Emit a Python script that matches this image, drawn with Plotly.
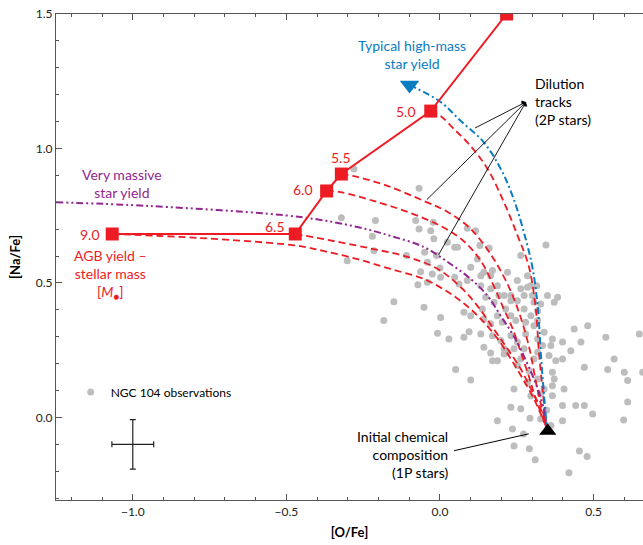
import plotly.graph_objects as go

# ---------------- data ----------------
obs_o = [-0.280, -0.068, -0.321, -0.210, -0.079, -0.022, -0.220, -0.068, -0.030, -0.020,
         0.089, 0.116, 0.024, 0.048, 0.057, 0.130, 0.160, -0.215, -0.302, -0.109,
         -0.050, -0.011, 0.000, -0.041, -0.025, -0.063, -0.072, -0.041, 0.002, 0.048,
         0.062, 0.089, 0.100, 0.122, 0.133, 0.143, 0.165, 0.171, 0.187, 0.133,
         0.165, 0.149, 0.192, 0.220, 0.252, 0.285, 0.315, 0.345, 0.263, 0.285,
         0.231, 0.274, 0.301, 0.252, 0.306, 0.328, 0.350, 0.383, 0.372, -0.183,
         -0.150, -0.052, 0.002, 0.029, 0.078, 0.095, -0.008, 0.133, 0.143, 0.165,
         0.171, 0.209, 0.220, 0.241, 0.252, 0.279, 0.306, 0.318, 0.339, 0.366,
         0.399, 0.426, 0.459, 0.437, 0.481, 0.540, 0.649, 0.567, 0.546, 0.600,
         0.611, 0.660, 0.470, 0.399, 0.377, 0.366, 0.372, 0.339, 0.318, 0.290,
         0.252, 0.263, 0.306, 0.285, 0.296, 0.328, 0.366, 0.404, 0.442, 0.470,
         0.497, 0.611, 0.399, 0.366, 0.241, 0.231, 0.263, 0.293, 0.328, 0.361,
         0.399, 0.187, 0.236, 0.051, 0.100, 0.209, 0.187, 0.361, 0.334, 0.318,
         0.274, 0.231, 0.198, 0.171, 0.143, 0.100, 0.078, 0.187, 0.203, 0.214,
         0.231, 0.247, 0.274, 0.279, 0.296, 0.318, 0.231, 0.209, 0.176, 0.138,
         0.165, 0.263, 0.355, 0.318, 0.296, 0.272, 0.241, 0.291, 0.310, 0.347,
         0.454, 0.479, 0.420, 0.598]
obs_na = [0.924, 0.852, 0.742, 0.732, 0.732, 0.726, 0.674, 0.701, 0.694, 0.664,
          0.703, 0.694, 0.651, 0.633, 0.633, 0.639, 0.630, 0.620, 0.583, 0.602,
          0.614, 0.602, 0.556, 0.577, 0.533, 0.542, 0.493, 0.503, 0.521, 0.521,
          0.496, 0.509, 0.558, 0.589, 0.527, 0.540, 0.527, 0.546, 0.490, 0.490,
          0.478, 0.447, 0.453, 0.540, 0.509, 0.527, 0.490, 0.641, 0.602, 0.484,
          0.453, 0.453, 0.453, 0.434, 0.428, 0.422, 0.453, 0.447, 0.428, 0.360,
          0.430, 0.410, 0.372, 0.292, 0.298, 0.319, 0.313, 0.310, 0.261, 0.240,
          0.211, 0.255, 0.242, 0.255, 0.280, 0.310, 0.341, 0.360, 0.317, 0.292,
          0.280, 0.248, 0.280, 0.329, 0.341, 0.298, 0.310, 0.217, 0.178, 0.168,
          0.137, 0.168, 0.187, 0.217, 0.211, 0.168, 0.143, 0.106, 0.143, 0.174,
          0.193, 0.217, 0.217, 0.131, 0.081, 0.087, 0.118, 0.106, 0.044, 0.044,
          0.013, 0.057, 0.044, 0.081, 0.106, 0.038, 0.032, -0.003, -0.006, -0.030,
          -0.012, -0.012, -0.043, 0.178, 0.139, 0.236, 0.211, 0.267, 0.267, 0.292,
          0.255, 0.304, 0.286, 0.304, 0.366, 0.378, 0.391, 0.378, 0.354, 0.403,
          0.378, 0.360, 0.403, 0.354, 0.378, 0.397, 0.434, 0.453, 0.428, 0.403,
          0.348, 0.478, 0.230, 0.242, 0.490, -0.062, -0.106, -0.116, -0.157, 0.028,
          -0.125, -0.145, -0.206, -0.010]

agb_mass = ["9.0", "6.5", "6.0", "5.5", "5.0", ""]
agb_o = [-1.067, -0.471, -0.369, -0.321, -0.030, 0.217]
agb_na = [0.682, 0.682, 0.842, 0.905, 1.139, 1.500]

init_o, init_na = 0.351, -0.050
hm_o, hm_na = -0.099, 1.236

# dilution tracks
trk50_o = [-0.030, 0.002, 0.045, 0.100, 0.155, 0.208, 0.253, 0.289, 0.312, 0.322, 0.335, 0.345, 0.351]
trk50_na = [1.139, 1.121, 1.073, 1.009, 0.924, 0.801, 0.675, 0.563, 0.403, 0.243, 0.095, -0.017, -0.050]
trk55_o = [-0.321, -0.269, -0.171, -0.053, 0.025, 0.100, 0.175, 0.237, 0.286, 0.319, 0.351]
trk55_na = [0.905, 0.894, 0.861, 0.805, 0.764, 0.701, 0.589, 0.452, 0.281, 0.095, -0.050]
trk60_o = [-0.369, -0.324, -0.216, -0.105, 0.002, 0.077, 0.133, 0.175, 0.208, 0.237, 0.263, 0.289, 0.312, 0.351]
trk60_na = [0.842, 0.838, 0.805, 0.764, 0.712, 0.656, 0.582, 0.489, 0.403, 0.329, 0.243, 0.154, 0.069, -0.050]
trk65_o = [-0.471, -0.347, -0.216, -0.105, -0.007, 0.067, 0.122, 0.175, 0.220, 0.263, 0.296, 0.328, 0.351]
trk65_na = [0.682, 0.656, 0.626, 0.597, 0.552, 0.485, 0.415, 0.329, 0.255, 0.180, 0.106, 0.032, -0.050]
trk90_o = [-1.067, -0.780, -0.455, -0.380, -0.269, -0.161, -0.053, 0.025, 0.084, 0.133, 0.188, 0.231, 0.270, 0.306, 0.328, 0.351]
trk90_na = [0.682, 0.667, 0.637, 0.619, 0.589, 0.552, 0.515, 0.467, 0.418, 0.366, 0.292, 0.217, 0.143, 0.069, 0.013, -0.050]

hm_track_o = [-0.099, 0.002, 0.067, 0.142, 0.198, 0.240, 0.279, 0.302, 0.319, 0.328, 0.338, 0.348, 0.351]
hm_track_na = [1.236, 1.173, 1.103, 1.024, 0.924, 0.812, 0.664, 0.552, 0.403, 0.243, 0.095, -0.032, -0.050]

vm_track_o = [-1.25, -0.943, -0.454, -0.269, -0.161, -0.053, 0.025, 0.100, 0.155, 0.198, 0.240, 0.273, 0.302, 0.322, 0.338, 0.351]
vm_track_na = [0.800, 0.786, 0.745, 0.708, 0.675, 0.634, 0.578, 0.515, 0.452, 0.377, 0.303, 0.229, 0.154, 0.095, 0.032, -0.050]

err_o, err_na = [-1.0], [-0.10]
err_dx, err_dy = [0.068], [0.092]

# ---------------- styles ----------------
RED = "#ed1c24"
BLUE = "#0a7cc1"
PURPLE = "#92278f"
GRAY = "#bdbdbd"
FONT = "Lato"

fig = go.Figure()

fig.add_trace(go.Scatter(x=obs_o, y=obs_na, mode="markers", name="NGC 104 observations",
                         marker=dict(color=GRAY, size=7), showlegend=True))

for xo, yn in [(trk50_o, trk50_na), (trk55_o, trk55_na), (trk60_o, trk60_na),
               (trk65_o, trk65_na), (trk90_o, trk90_na)]:
    fig.add_trace(go.Scatter(x=xo, y=yn, mode="lines", line_shape="spline", showlegend=False,
                             line=dict(color=RED, width=1.8, dash="7px,4px")))

fig.add_trace(go.Scatter(x=vm_track_o, y=vm_track_na, mode="lines", line_shape="spline", showlegend=False,
                         line=dict(color=PURPLE, width=2, dash="7px,3px,2px,3px,2px,3px")))
fig.add_trace(go.Scatter(x=hm_track_o, y=hm_track_na, mode="lines", line_shape="spline", showlegend=False,
                         line=dict(color=BLUE, width=2, dash="7px,3px,2px,3px")))

fig.add_trace(go.Scatter(x=agb_o, y=agb_na, mode="lines+markers", showlegend=False,
                         line=dict(color=RED, width=2),
                         marker=dict(symbol="square", size=13, color=RED)))

fig.add_trace(go.Scatter(x=[hm_o], y=[hm_na], mode="markers", showlegend=False,
                         marker=dict(symbol="triangle-down", size=17, color=BLUE)))
fig.add_trace(go.Scatter(x=[init_o], y=[init_na], mode="markers", showlegend=False,
                         marker=dict(symbol="triangle-up", size=15, color="black")))

fig.add_trace(go.Scatter(x=err_o, y=err_na, mode="markers", showlegend=False,
                         marker=dict(size=1, color="rgba(0,0,0,0)"),
                         error_x=dict(type="data", array=err_dx, color="#222", thickness=1.2, width=3),
                         error_y=dict(type="data", array=err_dy, color="#222", thickness=1.2, width=3)))

ann = []
# mass labels
shifts = {"9.0": (-10, 0, "right"), "6.5": (-8, 8, "right"), "6.0": (-12, 1, "right"),
          "5.5": (0, 17, "center"), "5.0": (-13, 0, "right")}
for m, xo, yn in zip(agb_mass, agb_o, agb_na):
    if m in shifts:
        dx, dy, xa = shifts[m]
        ann.append(dict(x=xo, y=yn, text=m, showarrow=False, xanchor=xa, yanchor="middle",
                        xshift=dx, yshift=dy, font=dict(color=RED, size=14, family=FONT)))

ann.append(dict(x=-0.092, y=1.351, text="Typical high-mass<br>star yield", showarrow=False,
                font=dict(color=BLUE, size=14, family=FONT), align="center"))
ann.append(dict(x=0.302, y=1.173, text="Dilution<br>tracks<br>(2P stars)", showarrow=False,
                xanchor="left", align="left", font=dict(color="black", size=14, family=FONT)))
ann.append(dict(x=-1.035, y=0.868, text="Very massive<br>star yield", showarrow=False,
                font=dict(color=PURPLE, size=14, family=FONT), align="center"))
ann.append(dict(x=-1.071, y=0.530, text="AGB yield –<br>stellar mass<br>[<i>M</i><sub>●</sub>]", showarrow=False,
                font=dict(color=RED, size=14, family=FONT), align="center"))
ann.append(dict(x=0.032, y=-0.139, text="Initial chemical<br>composition<br>(1P stars)", showarrow=False,
                xanchor="right", align="right", font=dict(color="black", size=14, family=FONT)))

for tx, ty in [(0.109, 1.073), (-0.047, 0.805), (-0.007, 0.600)]:
    ann.append(dict(x=0.280, y=1.173, ax=tx, ay=ty, axref="x", ayref="y", xref="x", yref="y",
                    text="", showarrow=True, arrowhead=4, arrowsize=1.2, arrowwidth=0.9,
                    arrowcolor="black"))
ann.append(dict(x=0.289, y=-0.061, ax=0.041, ay=-0.125, axref="x", ayref="y", text="",
                showarrow=True, arrowhead=0, arrowwidth=1, arrowcolor="black"))

axis_common = dict(showline=True, linecolor="#555", linewidth=1.2, ticks="inside", ticklen=6,
                   tickcolor="#555", tickwidth=1, showgrid=False, zeroline=False,
                   tickfont=dict(size=12, color="#222", family=FONT),
                   minor=dict(ticks="inside", ticklen=3, tickcolor="#555", dtick=0.1))

fig.update_layout(
    width=643, height=545,
    margin=dict(l=56, r=0, t=14, b=45),
    plot_bgcolor="white", paper_bgcolor="white",
    font=dict(family=FONT, color="black"),
    xaxis=dict(range=[-1.25, 0.661], dtick=0.5, tick0=0, tickformat=".1f", mirror="ticks",
               title=dict(text="<b>[O/Fe]</b>", font=dict(size=13, family=FONT), standoff=10),
               **axis_common),
    yaxis=dict(range=[-0.307, 1.5], dtick=0.5, tick0=0, tickformat=".1f", mirror=False,
               title=dict(text="<b>[Na/Fe]</b>", font=dict(size=13, family=FONT), standoff=12),
               **axis_common),
    legend=dict(x=0.025, y=0.222, yanchor="middle", xanchor="left", bgcolor="rgba(0,0,0,0)",
                font=dict(size=12, family=FONT, color="black"), itemwidth=30),
    annotations=ann,
)

fig.write_html("out.html")
